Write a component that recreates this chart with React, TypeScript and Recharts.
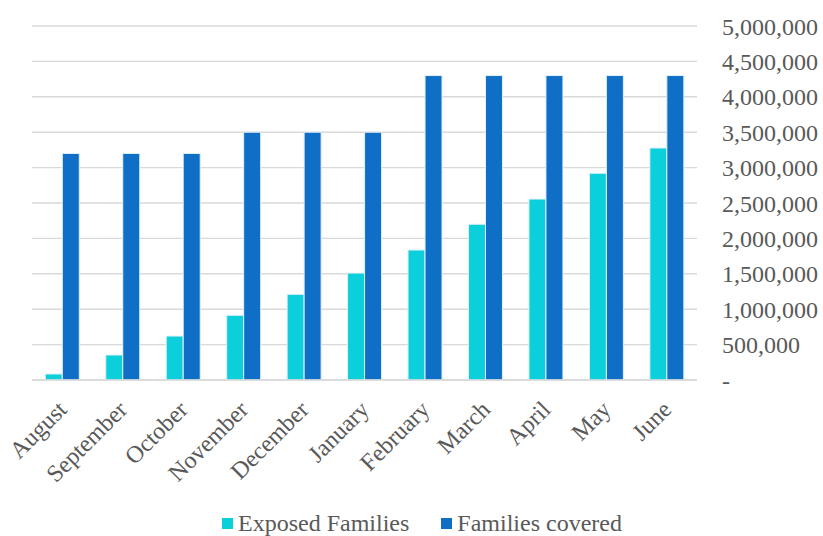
import React from 'react';
import { BarChart, Bar, XAxis, YAxis, CartesianGrid, Legend } from 'recharts';

const months = ['August', 'September', 'October', 'November', 'December', 'January', 'February', 'March', 'April', 'May', 'June'];
const exposedFamilies = [85000, 353000, 621000, 914000, 1210000, 1510000, 1836000, 2200000, 2556000, 2920000, 3277000];
const familiesCovered = [3200000, 3200000, 3200000, 3500000, 3500000, 3500000, 4300000, 4300000, 4300000, 4300000, 4300000];
const yTicks = [0, 500000, 1000000, 1500000, 2000000, 2500000, 3000000, 3500000, 4000000, 4500000, 5000000];

const CYAN = '#0BCFDA';
const BLUE = '#0F6FC6';
const TEXT = '#595959';
const FONT = '"Liberation Serif", "Times New Roman", serif';

const data = months.map((m, i) => ({
  month: m,
  exposed: exposedFamilies[i],
  covered: familiesCovered[i],
}));

const fmt = (v: number) => (v === 0 ? '-' : v.toLocaleString('en-US'));

// rotated month label, end of text sits under the category
const MonthTick = (props: any) => {
  const { x, y, payload } = props;
  const tx = x + 6;
  const ty = y + 23;
  return (
    <text
      x={tx}
      y={ty}
      transform={`rotate(-45, ${tx}, ${ty})`}
      textAnchor="end"
      fill={TEXT}
      fontSize={24}
      fontFamily={FONT}
    >
      {payload.value}
    </text>
  );
};

const LegendBox = () => (
  <div
    style={{
      display: 'flex',
      justifyContent: 'center',
      alignItems: 'center',
      height: 36,
      paddingRight: 11,
      paddingTop: 10,
      boxSizing: 'border-box',
      fontFamily: FONT,
      fontSize: 24,
      color: TEXT,
    }}
  >
    <span style={{ display: 'inline-block', width: 11, height: 11, background: CYAN, marginRight: 5 }} />
    <span style={{ marginRight: 32 }}>Exposed Families</span>
    <span style={{ display: 'inline-block', width: 11, height: 11, background: BLUE, marginRight: 5 }} />
    <span>Families covered</span>
  </div>
);

export default function App() {
  return (
    <div style={{ position: 'absolute', left: 0, top: 0, background: '#fff' }}>
      <BarChart
        width={823}
        height={536}
        data={data}
        margin={{ top: 26, right: 0, left: 32, bottom: 0 }}
        barCategoryGap="22%"
        barGap={0}
      >
        <CartesianGrid vertical={false} stroke="#d9d9d9" strokeWidth={1.4} />
        <XAxis
          dataKey="month"
          height={120}
          interval={0}
          tickLine={false}
          axisLine={{ stroke: '#d9d9d9', strokeWidth: 1.4 }}
          tick={<MonthTick />}
        />
        <YAxis
          orientation="right"
          width={126}
          domain={[0, 5000000]}
          ticks={yTicks}
          tickFormatter={fmt}
          axisLine={false}
          tickLine={false}
          tickSize={0}
          tickMargin={25}
          tick={{ fill: TEXT, fontSize: 24, fontFamily: FONT }}
        />
        <Legend verticalAlign="bottom" content={<LegendBox />} />
        <Bar dataKey="exposed" name="Exposed Families" fill={CYAN} stroke="#e3f0fb" strokeWidth={1} isAnimationActive={false} />
        <Bar dataKey="covered" name="Families covered" fill={BLUE} stroke="#e3f0fb" strokeWidth={1} isAnimationActive={false} />
      </BarChart>
    </div>
  );
}
